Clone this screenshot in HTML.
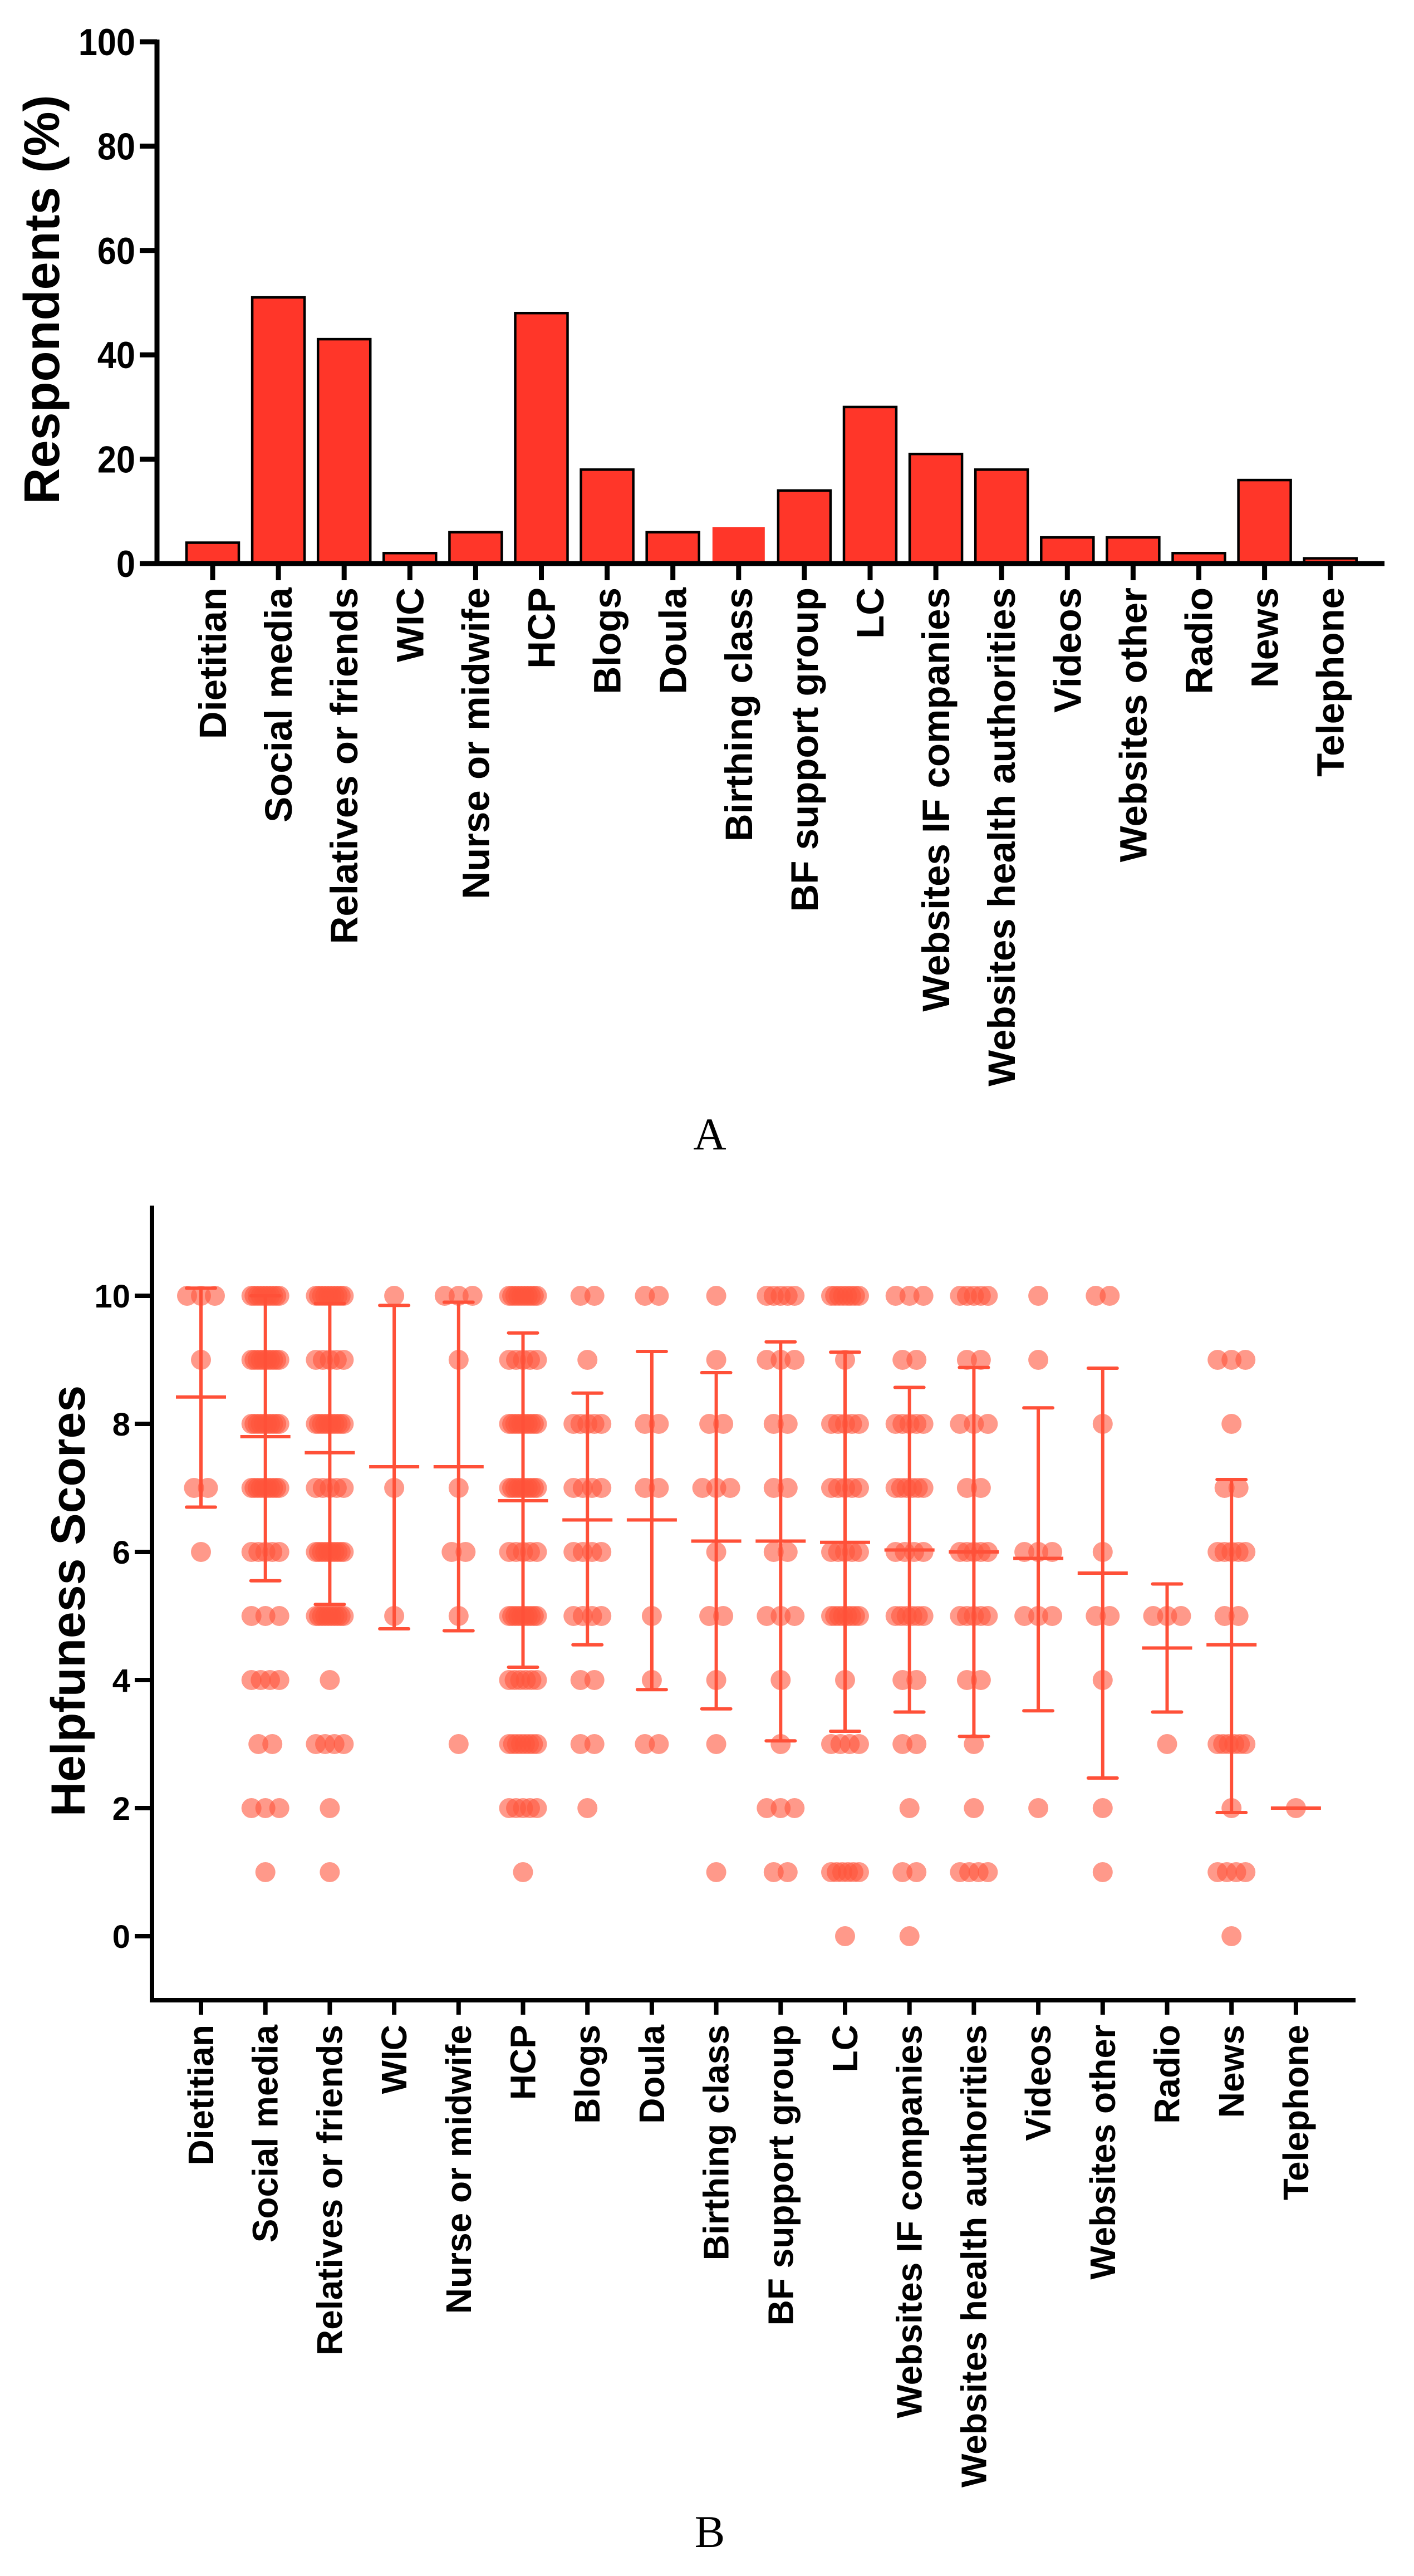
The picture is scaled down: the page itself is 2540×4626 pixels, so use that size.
<!DOCTYPE html>
<html><head><meta charset="utf-8"><style>
html,body{margin:0;padding:0;background:#fff;}
svg{display:block;font-family:"Liberation Sans",Arial,sans-serif;}
</style></head><body>
<svg id="fig" width="2540" height="4626" viewBox="0 0 2540 4626" xmlns="http://www.w3.org/2000/svg">
<g id="chartA"></g>
<g id="chartB"></g>
<text x="1275" y="2064" font-family="Liberation Serif, serif" font-size="82" text-anchor="middle">A</text>
<text x="1275" y="4574" font-family="Liberation Serif, serif" font-size="82" text-anchor="middle">B</text>
</svg>
<script>
const categories = ["Dietitian","Social media","Relatives or friends","WIC","Nurse or midwife","HCP","Blogs","Doula","Birthing class","BF support group","LC","Websites IF companies","Websites health authorities","Videos","Websites other","Radio","News","Telephone"];
const respondents = [4,51,43,2,6,48,18,6,7,14,30,21,18,5,5,2,16,1];
const ticksA = [0,20,40,60,80,100];
const ticksB = [0,2,4,6,8,10];
// score counts per category: [score, count]
const scoreCounts = [
 [[10,3],[9,1],[7,2],[6,1]],
 [[10,10],[9,10],[8,10],[7,10],[6,5],[5,3],[4,4],[3,2],[2,3],[1,1]],
 [[10,10],[9,5],[8,10],[7,5],[6,10],[5,10],[4,1],[3,4],[2,1],[1,1]],
 [[10,1],[7,1],[5,1]],
 [[10,3],[9,1],[7,1],[6,2],[5,1],[3,1]],
 [[10,10],[9,5],[8,10],[7,10],[6,5],[5,10],[4,6],[3,8],[2,5],[1,1]],
 [[10,2],[9,1],[8,5],[7,4],[6,4],[5,4],[4,2],[3,2],[2,1]],
 [[10,2],[8,2],[7,2],[5,1],[4,1],[3,2]],
 [[10,1],[9,1],[8,2],[7,3],[6,1],[5,2],[4,1],[3,1],[1,1]],
 [[10,5],[9,3],[8,2],[7,2],[6,2],[5,3],[4,1],[3,1],[2,3],[1,2]],
 [[10,8],[9,1],[8,5],[7,5],[6,5],[5,8],[4,1],[3,4],[1,6],[0,1]],
 [[10,3],[9,2],[8,5],[7,6],[6,4],[5,6],[4,2],[3,2],[2,1],[1,2],[0,1]],
 [[10,5],[9,2],[8,3],[7,2],[6,5],[5,5],[4,2],[3,1],[2,1],[1,4]],
 [[10,1],[9,1],[6,3],[5,3],[2,1]],
 [[10,2],[8,1],[6,1],[5,2],[4,1],[2,1],[1,1]],
 [[5,3],[3,1]],
 [[9,3],[8,1],[7,2],[6,5],[5,2],[3,6],[2,1],[1,4],[0,1]],
 [[2,1]]
];
const means = [8.42,7.8,7.55,7.33,7.33,6.8,6.5,6.5,6.17,6.17,6.15,6.03,6.0,5.9,5.67,4.5,4.55,2.0];
const sdLow = [6.7,5.55,5.18,4.8,4.77,4.2,4.55,3.85,3.55,3.05,3.2,3.5,3.12,3.52,2.47,3.5,1.93,2.0];
const sdHigh = [10.12,10.0,9.88,9.85,9.9,9.42,8.48,9.13,8.8,9.28,9.12,8.57,8.88,8.25,8.87,5.5,7.13,2.0];

const NS="http://www.w3.org/2000/svg";
function mk(parent,tag,attrs){const e=document.createElementNS(NS,tag);for(const k in attrs)e.setAttribute(k,attrs[k]);parent.appendChild(e);return e;}

// ---- Chart A ----
const gA=document.getElementById('chartA');
const A={x0:282,xEnd:2487,y0:1012,per:9.37,c0:382,step:118.1,bw:94};
const yA=v=>A.y0-v*A.per;
const xA=i=>A.c0+i*A.step;
categories.forEach((c,i)=>{
  const h=respondents[i]*A.per;
  const r=mk(gA,'rect',{x:xA(i)-A.bw/2,y:yA(respondents[i]),width:A.bw,height:h,fill:'#ff3629',stroke:i===8?'none':'#000','stroke-width':4.5});
  
  
  const t=mk(gA,'line',{x1:xA(i),x2:xA(i),y1:A.y0,y2:A.y0+30,stroke:'#000','stroke-width':9});
  
  
  const lb=mk(gA,'text',{transform:`translate(${xA(i)+24},1055) rotate(-90)`,'text-anchor':'end','font-size':69,'font-weight':'bold'});
  lb.textContent=c;
  
  
});
mk(gA,'line',{x1:A.x0,x2:A.x0,y1:yA(100)-4,y2:A.y0+4,stroke:'#000','stroke-width':9});
mk(gA,'line',{x1:A.x0-4,x2:A.xEnd,y1:A.y0,y2:A.y0,stroke:'#000','stroke-width':9});
ticksA.forEach(v=>{
  const t=mk(gA,'line',{x1:251,x2:A.x0,y1:yA(v),y2:yA(v),stroke:'#000','stroke-width':9});
  
  
  const l=mk(gA,'text',{x:243,y:yA(v)+24,'text-anchor':'end','font-size':68,'font-weight':'bold',transform:`translate(${243*0.1},0) scale(0.9,1)`});
  l.textContent=v;
  
  
});
const tA=mk(gA,'text',{transform:'translate(106,538) rotate(-90)','text-anchor':'middle','font-size':90,'font-weight':'bold'});
tA.textContent='Respondents (%)';



// ---- Chart B ----
const gB=document.getElementById('chartB');
const B={x0:273,xEnd:2435,y0:3477,per:115,c0:361,step:115.7,yTop:2165,yAxis:3592};
const yB=v=>B.y0-v*B.per;
const xB=i=>B.c0+i*B.step;
mk(gB,'line',{x1:B.x0,x2:B.x0,y1:B.yTop,y2:B.yAxis+4,stroke:'#000','stroke-width':8});
mk(gB,'line',{x1:B.x0-4,x2:B.xEnd,y1:B.yAxis,y2:B.yAxis,stroke:'#000','stroke-width':8});
ticksB.forEach(v=>{
  const t=mk(gB,'line',{x1:242,x2:B.x0,y1:yB(v),y2:yB(v),stroke:'#000','stroke-width':8});
  
  
  const l=mk(gB,'text',{x:234,y:yB(v)+21,'text-anchor':'end','font-size':58,'font-weight':'bold'});
  l.textContent=v;
  
  
});
categories.forEach((c,i)=>{
  const cx=xB(i);
  scoreCounts[i].forEach(([s,n])=>{
    const st=n>1?Math.min(25,50/(n-1)):0;
    for(let k=0;k<n;k++){
      const d=mk(gB,'circle',{cx:cx+(k-(n-1)/2)*st,cy:yB(s),r:18,fill:'rgba(255,85,60,0.6)'});
      
      
    }
  });
  const col='#ff5038';
  const v=mk(gB,'line',{x1:cx,x2:cx,y1:yB(sdHigh[i]),y2:yB(sdLow[i]),stroke:col,'stroke-width':6});
  
  
  [sdHigh[i],sdLow[i]].forEach(s=>{
    const cp=mk(gB,'line',{x1:cx-26,x2:cx+26,y1:yB(s),y2:yB(s),stroke:col,'stroke-width':6,'stroke-linecap':'round'});
    
    
  });
  const m=mk(gB,'line',{x1:cx-45,x2:cx+45,y1:yB(means[i]),y2:yB(means[i]),stroke:col,'stroke-width':6});
  
  
  const t=mk(gB,'line',{x1:cx,x2:cx,y1:B.yAxis,y2:B.yAxis+26,stroke:'#000','stroke-width':8});
  
  
  const lb=mk(gB,'text',{transform:`translate(${cx+22},3636) rotate(-90)`,'text-anchor':'end','font-size':64,'font-weight':'bold'});
  lb.textContent=c;
  
  
});
const tB=mk(gB,'text',{transform:'translate(152,2875) rotate(-90)','text-anchor':'middle','font-size':86,'font-weight':'bold'});
tB.textContent='Helpfuness Scores';


</script>
</body></html>
